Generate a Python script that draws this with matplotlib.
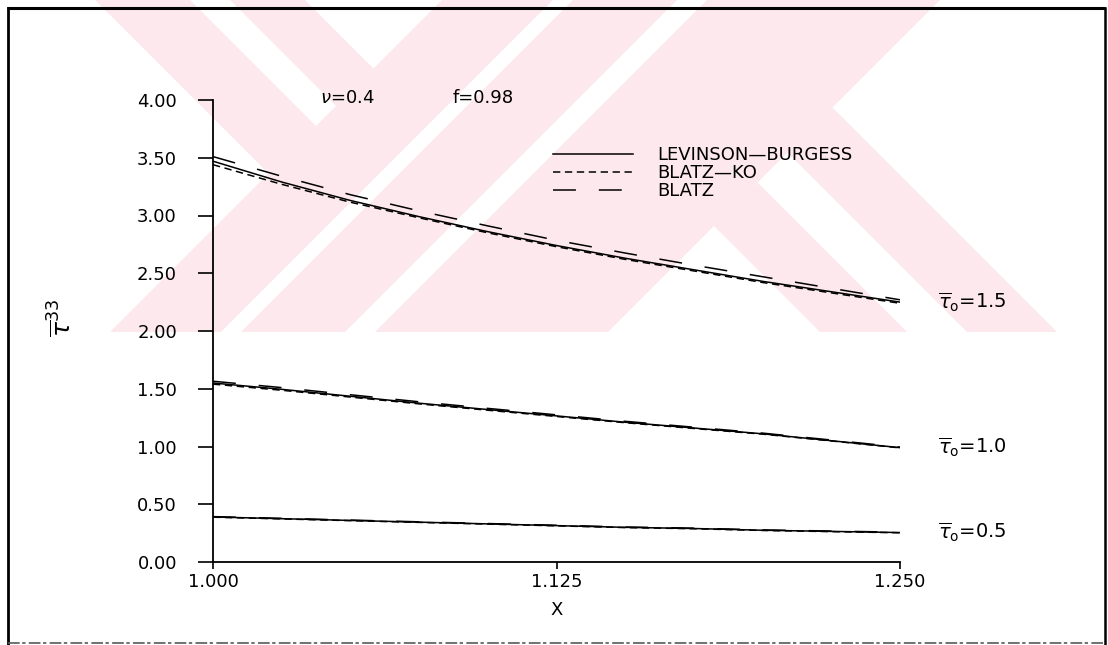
import matplotlib
matplotlib.use('Agg')
import matplotlib.pyplot as plt
from matplotlib.patches import Polygon

# stress component T33 vs stretch X, nu = 0.4, f = 0.98
x_vals = [1.000, 1.025, 1.050, 1.075, 1.100, 1.125, 1.150, 1.175, 1.200, 1.225, 1.250]

# tau_o = 1.5
lb_15 = [3.47, 3.29, 3.13, 2.99, 2.86, 2.74, 2.63, 2.53, 2.43, 2.34, 2.25]
bk_15 = [3.44, 3.27, 3.115, 2.98, 2.85, 2.73, 2.62, 2.52, 2.42, 2.33, 2.24]
bz_15 = [3.51, 3.34, 3.18, 3.04, 2.91, 2.785, 2.675, 2.57, 2.47, 2.37, 2.27]

# tau_o = 1.0
lb_10 = [1.55, 1.495, 1.435, 1.375, 1.32, 1.265, 1.21, 1.16, 1.11, 1.05, 0.99]
bk_10 = [1.54, 1.487, 1.428, 1.369, 1.314, 1.26, 1.206, 1.156, 1.107, 1.048, 0.988]
bz_10 = [1.565, 1.51, 1.448, 1.387, 1.33, 1.274, 1.218, 1.167, 1.116, 1.056, 0.995]

# tau_o = 0.5
lb_05 = [0.39, 0.375, 0.36, 0.345, 0.33, 0.315, 0.30, 0.29, 0.275, 0.265, 0.255]
bk_05 = [0.388, 0.373, 0.358, 0.343, 0.328, 0.313, 0.298, 0.288, 0.273, 0.263, 0.253]
bz_05 = [0.393, 0.378, 0.363, 0.348, 0.333, 0.318, 0.303, 0.293, 0.278, 0.268, 0.258]

tau_names = ['1.5', '1.0', '0.5']
model_names = ['LEVINSON\u2014BURGESS', 'BLATZ\u2014KO', 'BLATZ']

x_ticks = [1.000, 1.125, 1.250]
y_ticks = [0.0, 0.5, 1.0, 1.5, 2.0, 2.5, 3.0, 3.5, 4.0]

W, H = 1108, 645
FS = 13
plt.rcParams['font.family'] = ['DejaVu Sans']
plt.rcParams['mathtext.fontset'] = 'dejavusans'

fig = plt.figure(figsize=(W / 100, H / 100), dpi=100)

# background layer in pixel units: faint watermark and page frame
bg = fig.add_axes([0, 0, 1, 1], zorder=0)
bg.set_xlim(0, W)
bg.set_ylim(H, 0)
bg.axis('off')

pink = '#fde9ed'
bands = [
    [(95, 0), (190, 0), (316, 126), (268.5, 173.5)],
    [(230, 0), (305, 0), (373.5, 68.5), (336, 106)],
    [(442, 0), (553, 0), (221, 332), (110, 332)],
    [(573, 0), (677, 0), (345, 332), (241, 332)],
    [(707, 0), (940, 0), (608, 332), (375, 332)],
    [(714, 226), (757.5, 182.5), (907, 332), (820, 332)],
    [(787.5, 152.5), (832.5, 107.5), (1057, 332), (967, 332)],
]
for pts in bands:
    bg.add_patch(Polygon(pts, closed=True, facecolor=pink, edgecolor='none'))

bg.plot([7, 1105], [8, 8], color='black', lw=2.2, solid_capstyle='butt')
bg.plot([7.5, 7.5], [8, 645], color='black', lw=2.0)
bg.plot([1104.5, 1104.5], [8, 645], color='black', lw=1.8)
bg.plot([8, 1104], [642.5, 642.5], color='0.35', lw=1.2, dashes=(7, 1.5, 2, 2))

# main plot
left, right, top, bottom = 213, 900, 100, 562
ax = fig.add_axes([left / W, (H - bottom) / H, (right - left) / W, (bottom - top) / H], zorder=1)
ax.set_facecolor('none')

groups = [(lb_15, bk_15, bz_15), (lb_10, bk_10, bz_10), (lb_05, bk_05, bz_05)]
for i, (lb, bk, bz) in enumerate(groups):
    ax.plot(x_vals, lb, color='black', lw=1.1, label=model_names[0] if i == 0 else None)
    ax.plot(x_vals, bk, color='black', lw=1.1, dashes=(4.8, 3.0), label=model_names[1] if i == 0 else None)
    ax.plot(x_vals, bz, color='black', lw=1.1, dashes=(15, 15), label=model_names[2] if i == 0 else None)
    ax.text(1.2638, lb[-1], r'$\overline{\tau}_{\mathrm{o}}$=' + tau_names[i],
            fontsize=FS + 1, va='center', ha='left', clip_on=False)

ax.set_xlim(1.0, 1.25)
ax.set_ylim(0, 4.0)
ax.set_xticks(x_ticks)
ax.set_xticklabels(['%.3f' % v for v in x_ticks])
ax.set_yticks(y_ticks)
ax.set_yticklabels(['%.2f' % v for v in y_ticks])

for s in ['top', 'right']:
    ax.spines[s].set_visible(False)
for s in ['left', 'bottom']:
    ax.spines[s].set_linewidth(1.3)
ax.tick_params(axis='y', direction='out', length=11, width=1.2, pad=15, labelsize=FS)
ax.tick_params(axis='x', direction='out', length=5, width=1.2, pad=3, labelsize=FS)

ax.set_xlabel('X', fontsize=FS)
ax.xaxis.set_label_coords(0.5, -0.085)
ax.set_ylabel(r'$\overline{\tau}^{33}$', fontsize=18)
ax.yaxis.set_label_coords(-0.20, 0.528)

ax.text(1.0389, 4.02, r'$\nu$=0.4', fontsize=FS, va='center', ha='left', clip_on=False)
ax.text(1.0873, 4.02, 'f=0.98', fontsize=FS, va='center', ha='left', clip_on=False)

ax.legend(loc='upper left', bbox_to_anchor=(0.495, 0.900), frameon=False,
          fontsize=13, handlelength=80 / 18, handletextpad=24 / 18, labelspacing=0.0,
          borderpad=0, borderaxespad=0)

fig.savefig('out.png', dpi=100)
